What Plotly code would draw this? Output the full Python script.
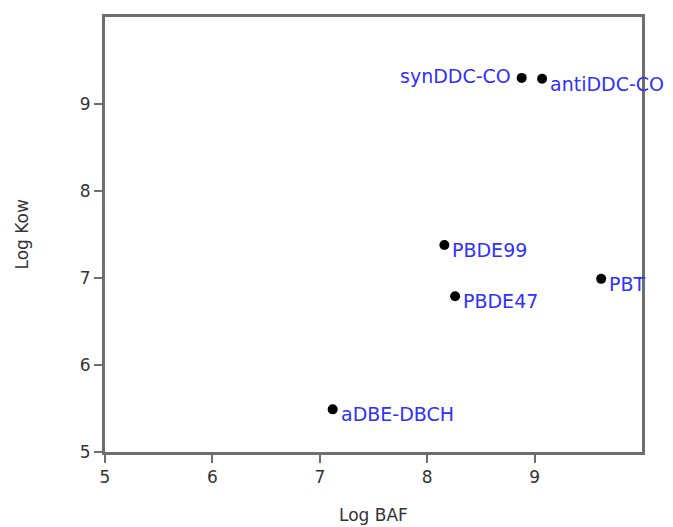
import plotly.graph_objects as go

names = ["synDDC-CO", "antiDDC-CO", "PBDE99", "PBDE47", "PBT", "aDBE-DBCH"]
log_baf = [8.88, 9.07, 8.16, 8.26, 9.62, 7.12]
log_kow = [9.30, 9.29, 7.38, 6.79, 6.99, 5.49]
label_side = ["left", "right", "right", "right", "right", "right"]

x_ticks = [5, 6, 7, 8, 9]
y_ticks = [5, 6, 7, 8, 9]

FONT = "DejaVu Sans, Segoe UI, sans-serif"
LABEL_COLOR = "#3030ff"
TEXT_COLOR = "#333333"

fig = go.Figure()
fig.add_trace(go.Scatter(
    x=log_baf, y=log_kow, mode="markers",
    marker=dict(color="black", size=10),
    cliponaxis=False, hoverinfo="text", text=names,
))

for n, xv, yv, side in zip(names, log_baf, log_kow, label_side):
    if side == "left":
        fig.add_annotation(x=xv, y=yv, text=n, showarrow=False,
                           xanchor="right", yanchor="middle", xshift=-9, yshift=2,
                           font=dict(family=FONT, size=19, color=LABEL_COLOR))
    else:
        fig.add_annotation(x=xv, y=yv, text=n, showarrow=False,
                           xanchor="left", yanchor="middle", xshift=6, yshift=-5,
                           font=dict(family=FONT, size=19, color=LABEL_COLOR))

# axis titles
fig.add_annotation(x=0.5, y=0, xref="paper", yref="paper", text="Log BAF",
                   showarrow=False, xanchor="center", yanchor="middle", yshift=-63,
                   font=dict(family=FONT, size=17, color=TEXT_COLOR))
fig.add_annotation(x=0, y=0.5, xref="paper", yref="paper", text="Log Kow",
                   showarrow=False, xanchor="center", yanchor="middle", xshift=-84,
                   textangle=-90, font=dict(family=FONT, size=17, color=TEXT_COLOR))

axis_common = dict(
    showgrid=False, zeroline=False, automargin=False,
    showline=True, linecolor="#6e6e6e", linewidth=3, mirror=True,
    ticks="outside", ticklen=8, tickwidth=2, tickcolor="#6e6e6e",
    tickfont=dict(family=FONT, size=17, color=TEXT_COLOR),
)

fig.update_xaxes(range=[5, 10], tickvals=x_ticks, ticktext=[str(v) for v in x_ticks],
                 **axis_common)
fig.update_yaxes(range=[5, 10], tickvals=y_ticks, ticktext=[str(v) for v in y_ticks],
                 **axis_common)

fig.update_layout(
    width=673, height=527,
    margin=dict(l=105, r=31, t=17, b=75),
    paper_bgcolor="white", plot_bgcolor="white",
    showlegend=False,
)

fig.write_html(
    "out.html",
    config={"displayModeBar": False},
    post_script="document.body.style.margin='0';document.body.style.padding='0';document.body.style.overflow='hidden';",
)
